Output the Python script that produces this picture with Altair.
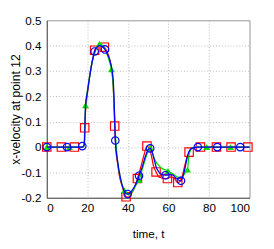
import altair as alt
import pandas as pd

# ---- red series (squares) ----
red_line_t = [0, 18, 18.5, 18.7, 19.2, 20, 21, 22, 23, 23.6, 25, 26, 27, 28.4, 29.5, 30.5, 31.5, 32.3, 33, 33.5, 34, 35, 36, 37, 38, 39.1, 40.5, 42, 43, 44.7, 46, 47, 48, 49.4, 50.5, 51.5, 52.5, 53.9, 55, 56, 57.5, 59.5, 61, 62.5, 63.5, 64.6, 66, 67, 68, 69, 70.2, 71, 72, 73.5, 75.8, 100]
red_line_y = [0, 0, 0.01, 0.076, 0.15, 0.21, 0.27, 0.32, 0.36, 0.382, 0.398, 0.402, 0.4, 0.394, 0.38, 0.36, 0.33, 0.29, 0.2, 0.083, 0.0, -0.07, -0.12, -0.15, -0.175, -0.196, -0.197, -0.18, -0.165, -0.124, -0.09, -0.06, -0.03, 0.004, -0.005, -0.03, -0.07, -0.098, -0.115, -0.12, -0.123, -0.124, -0.118, -0.12, -0.13, -0.14, -0.132, -0.11, -0.075, -0.045, -0.02, -0.008, -0.003, -0.001, 0, 0]
red_mark_t = [0, 7.2, 13.6, 18.7, 23.6, 28.4, 33.5, 39.1, 44.7, 49.4, 53.9, 59.5, 64.6, 70.2, 75.8, 83.7, 90.9, 99.2]
red_mark_y = [0, 0, 0, 0.076, 0.382, 0.394, 0.083, -0.196, -0.124, 0.004, -0.098, -0.124, -0.14, -0.02, 0, 0, 0, 0]

# ---- green series (triangles) ----
green_line_t = [0, 18, 18.5, 19.1, 20, 21, 22, 23, 24, 25, 26, 27, 28, 29, 30, 31, 31.9, 32.7, 33.3, 34, 35, 36, 37, 38.3, 39.5, 40.5, 42, 44, 45.5, 47, 48.5, 50, 51, 52, 53, 54, 55, 57, 59.8, 61, 63, 65, 67, 68, 69.4, 70, 71, 72, 74, 100]
green_line_y = [0, 0, 0.01, 0.165, 0.22, 0.275, 0.32, 0.355, 0.38, 0.398, 0.408, 0.405, 0.395, 0.38, 0.36, 0.335, 0.307, 0.25, 0.15, 0.03, -0.06, -0.11, -0.145, -0.171, -0.185, -0.188, -0.178, -0.15, -0.13, -0.09, -0.05, -0.015, -0.003, -0.02, -0.045, -0.06, -0.07, -0.085, -0.094, -0.1, -0.11, -0.12, -0.115, -0.105, -0.089, -0.04, -0.01, -0.003, 0, 0]
green_mark_t = [0, 11.2, 19.1, 26, 31.9, 38.3, 45.5, 51, 59.8, 69.4, 78.9, 90.6]
green_mark_y = [0, 0, 0.165, 0.408, 0.307, -0.171, -0.13, -0.003, -0.094, -0.089, 0, 0]

# ---- blue series (circles) ----
blue_line_t = [0, 17.5, 18.5, 19.1, 20, 21, 22, 23, 23.6, 25, 26, 27, 28.7, 30, 31, 32, 32.8, 33.3, 33.8, 35, 36, 37, 38, 39, 39.9, 41, 42, 44, 45.5, 47, 48.5, 50, 51, 52, 53, 54, 55, 56, 58.5, 60, 62, 64, 66.2, 67, 68, 69, 70, 71, 72, 74.5, 100]
blue_line_y = [0, 0, 0.01, 0.16, 0.215, 0.27, 0.32, 0.36, 0.377, 0.395, 0.4, 0.398, 0.385, 0.365, 0.345, 0.31, 0.26, 0.16, 0.026, -0.06, -0.11, -0.145, -0.17, -0.183, -0.185, -0.182, -0.172, -0.145, -0.113, -0.08, -0.04, -0.01, -0.005, -0.02, -0.05, -0.08, -0.095, -0.105, -0.111, -0.11, -0.11, -0.125, -0.133, -0.12, -0.09, -0.05, -0.02, -0.008, -0.003, 0, 0]
blue_mark_t = [0, 10, 17.5, 23.6, 28.7, 33.8, 39.9, 45.5, 51, 58.5, 66.2, 74.5, 84.1, 95.4]
blue_mark_y = [0, 0, 0.004, 0.377, 0.385, 0.026, -0.185, -0.113, -0.005, -0.111, -0.133, 0, 0, 0]

x_ticks = [0, 20, 40, 60, 80, 100]
y_ticks = [-0.2, -0.1, 0, 0.1, 0.2, 0.3, 0.4, 0.5]

x_scale = alt.Scale(domain=[0, 100], nice=False)
y_scale = alt.Scale(domain=[-0.2, 0.5], nice=False)

x_axis = alt.Axis(values=x_ticks, title="time, t", grid=True, gridDash=[1, 2],
                  gridColor="#bbbbbb", ticks=False, domain=True, domainColor="#555555",
                  labelPadding=5, labelOverlap=False, titleFontSize=12,
                  titleFontWeight="normal", titleBaseline="middle", titleY=37)
y_axis = alt.Axis(values=y_ticks, title="x-velocity at point 12", grid=True,
                  gridDash=[1, 2], gridColor="#bbbbbb", ticks=False, domain=True,
                  domainColor="#555555", labelPadding=6, labelOverlap=False,
                  titleFontSize=12.5, titleFontWeight="normal", titleBaseline="middle",
                  titleX=-32,
                  labelExpr="datum.value == 0 ? '0' : replace(format(datum.value, '.1f'), '\u2212', '-')")


def series(lt, ly, mt, my, color, shape, filled, size):
    ldf = pd.DataFrame({"t": lt, "v": ly})
    mdf = pd.DataFrame({"t": mt, "v": my})
    line = alt.Chart(ldf).mark_line(color=color, strokeWidth=1.3, interpolate="monotone").encode(
        x=alt.X("t:Q", scale=x_scale, axis=x_axis),
        y=alt.Y("v:Q", scale=y_scale, axis=y_axis),
    )
    pts = alt.Chart(mdf).mark_point(shape=shape, filled=filled, color=color, size=size,
                                    strokeWidth=1.2, opacity=1).encode(
        x=alt.X("t:Q", scale=x_scale, axis=x_axis),
        y=alt.Y("v:Q", scale=y_scale, axis=y_axis),
    )
    return [line, pts]


layers = (series(red_line_t, red_line_y, red_mark_t, red_mark_y, "#ff0000", "square", False, 75)
          + series(green_line_t, green_line_y, green_mark_t, green_mark_y, "#00dd00", "triangle-up", True, 50)
          + series(blue_line_t, blue_line_y, blue_mark_t, blue_mark_y, "#0000ff", "circle", False, 60))

chart = alt.layer(*layers).properties(
    width=209, height=183,
    autosize=alt.AutoSizeParams(type="none"),
    padding={"left": 40, "top": 9, "right": 17, "bottom": 45},
).configure_view(stroke="#999999", strokeWidth=1).configure_axis(
    labelFont="Liberation Sans", labelFontSize=12, labelColor="#000000", labelOverlap=False,
    titleFont="Liberation Sans", titleFontSize=12, titleFontWeight="normal", titleColor="#000000",
)

chart.save("out.html", embed_options={"renderer": "svg", "actions": False})
